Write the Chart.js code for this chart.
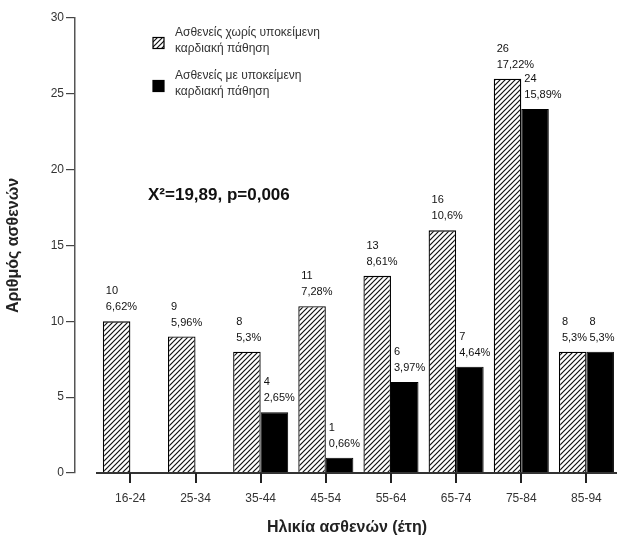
<!DOCTYPE html>
<html>
<head>
<meta charset="utf-8">
<script src="https://cdn.jsdelivr.net/npm/chart.js@4/dist/chart.umd.min.js"></script>
<style>
  html, body { margin: 0; padding: 0; background: #ffffff; }
  #wrap { width: 624px; height: 541px; position: relative; }
</style>
</head>
<body>
<div id="wrap"><canvas id="c" width="624" height="541"></canvas></div>
<script>
// ---- data ----
const categories = ['16-24', '25-34', '35-44', '45-54', '55-64', '65-74', '75-84', '85-94'];
const withoutDisease = [10, 9, 8, 11, 13, 16, 26, 8];
const withDisease = [0, 0, 4, 1, 6, 7, 24, 8];
const withoutPct = ['6,62%', '5,96%', '5,3%', '7,28%', '8,61%', '10,6%', '17,22%', '5,3%'];
const withPct = ['', '', '2,65%', '0,66%', '3,97%', '4,64%', '15,89%', '5,3%'];
const legendWithout = ['Ασθενείς χωρίς υποκείμενη', 'καρδιακή πάθηση'];
const legendWith = ['Ασθενείς με υποκείμενη', 'καρδιακή πάθηση'];
const yTicks = [0, 5, 10, 15, 20, 25, 30];
const statText = 'X\u00B2=19,89, p=0,006';
const xTitle = 'Ηλικία ασθενών (έτη)';
const yTitle = 'Αριθμός ασθενών';

const FONT = "'Liberation Sans', Arial, sans-serif";
const TXT = '#222';

// hatch pattern
function makeHatch() {
  const s = 5;
  const c = document.createElement('canvas');
  c.width = s; c.height = s;
  const g = c.getContext('2d');
  g.fillStyle = '#fff';
  g.fillRect(0, 0, s, s);
  g.strokeStyle = '#111';
  g.lineWidth = 1.2;
  g.beginPath();
  g.moveTo(-1, s + 1); g.lineTo(s + 1, -1);
  g.moveTo(-1, 1); g.lineTo(1, -1);
  g.moveTo(s - 1, s + 1); g.lineTo(s + 1, s - 1);
  g.stroke();
  return g.createPattern(c, 'repeat');
}
const hatch = makeHatch();

const pct = [withoutPct, withPct];

const labelPlugin = {
  id: 'barLabels',
  afterDatasetsDraw(chart) {
    const ctx = chart.ctx;
    ctx.save();
    ctx.font = '11px ' + FONT;
    ctx.fillStyle = '#111';
    ctx.textAlign = 'left';
    ctx.textBaseline = 'middle';
    chart.data.datasets.forEach((ds, di) => {
      const meta = chart.getDatasetMeta(di);
      meta.data.forEach((el, i) => {
        const v = ds.data[i].y;
        if (!v) return;
        const left = el.x - el.width / 2 + 3;
        ctx.fillText(String(v), left, el.y - 30);
        ctx.fillText(pct[di][i], left, el.y - 14);
      });
    });
    ctx.restore();
  }
};

const decorPlugin = {
  id: 'decor',
  afterDraw(chart) {
    const ctx = chart.ctx;
    const x = chart.scales.x, y = chart.scales.y, a = chart.chartArea;
    const y0 = Math.round(y.getPixelForValue(0));
    ctx.save();
    // baseline
    ctx.fillStyle = '#333';
    const bx = Math.round(x.getPixelForValue(-0.52));
    ctx.fillRect(bx, y0 - 1, Math.round(a.right - 2) - bx, 2);
    // x tick marks at category centres
    ctx.fillStyle = '#222';
    for (let i = 0; i < categories.length; i++) {
      const px = Math.round(x.getPixelForValue(i));
      ctx.fillRect(px - 1, y0, 2, 10);
    }
    // stat annotation
    ctx.fillStyle = '#111';
    ctx.font = 'bold 17px ' + FONT;
    ctx.textAlign = 'left';
    ctx.textBaseline = 'middle';
    ctx.fillText(statText, a.left + 73, y.getPixelForValue(18.3));
    // legend
    const lx = a.left + 78, boxS = 11;
    const entries = [
      { lines: legendWithout, fill: hatch, top: 33 },
      { lines: legendWith, fill: '#000', top: 76 }
    ];
    ctx.font = '12px ' + FONT;
    entries.forEach(e => {
      ctx.fillStyle = e.fill;
      ctx.fillRect(lx, e.top + 8 - boxS / 2 + 2, boxS, boxS);
      ctx.strokeStyle = '#000';
      ctx.lineWidth = 1.2;
      ctx.strokeRect(lx, e.top + 8 - boxS / 2 + 2, boxS, boxS);
      ctx.fillStyle = '#333';
      e.lines.forEach((t, k) => ctx.fillText(t, lx + 22, e.top + k * 16));
    });
    ctx.restore();
  }
};

new Chart(document.getElementById('c'), {
  type: 'bar',
  data: {
    datasets: [
      {
        label: legendWithout.join(' '),
        data: withoutDisease.map((v, i) => ({ x: i, y: v })),
        backgroundColor: hatch,
        borderColor: '#000',
        borderWidth: 1.3,
        borderSkipped: 'bottom'
      },
      {
        label: legendWith.join(' '),
        data: withDisease.map((v, i) => ({ x: i, y: v })),
        backgroundColor: '#000',
        borderColor: '#000',
        borderWidth: 1,
        borderSkipped: 'bottom'
      }
    ]
  },
  options: {
    responsive: false,
    animation: false,
    devicePixelRatio: 1,
    layout: { padding: { top: 18, right: 5, left: 0, bottom: 0 } },
    categoryPercentage: 0.845,
    barPercentage: 1.0,
    plugins: {
      legend: { display: false },
      tooltip: { enabled: false }
    },
    scales: {
      x: {
        type: 'linear',
        min: -0.85,
        max: 7.5,
        offset: false,
        afterBuildTicks(s) { s.ticks = categories.map((_, i) => ({ value: i })); },
        afterFit(s) { s.height = 68; },
        ticks: {
          callback: (v) => categories[v] ?? '',
          font: { family: FONT, size: 12 },
          color: '#333',
          padding: 10,
          maxRotation: 0,
          autoSkip: false
        },
        grid: { display: false },
        border: { display: false },
        title: {
          display: true,
          text: xTitle,
          font: { family: FONT, size: 16, weight: 'bold' },
          color: TXT,
          padding: { top: 5 }
        }
      },
      y: {
        min: 0,
        max: 30,
        afterBuildTicks(s) { s.ticks = yTicks.map(v => ({ value: v })); },
        afterFit(s) { s.width = 75; },
        ticks: {
          font: { family: FONT, size: 12 },
          color: '#333',
          padding: 2
        },
        grid: { drawOnChartArea: false, drawTicks: true, tickLength: 9, color: '#444', lineWidth: 1.2 },
        border: { display: true, color: '#555', width: 1.5 },
        title: {
          display: true,
          text: yTitle,
          font: { family: FONT, size: 16, weight: 'bold' },
          color: TXT,
          padding: { bottom: 6 }
        }
      }
    }
  },
  plugins: [labelPlugin, decorPlugin]
});
</script>
</body>
</html>
